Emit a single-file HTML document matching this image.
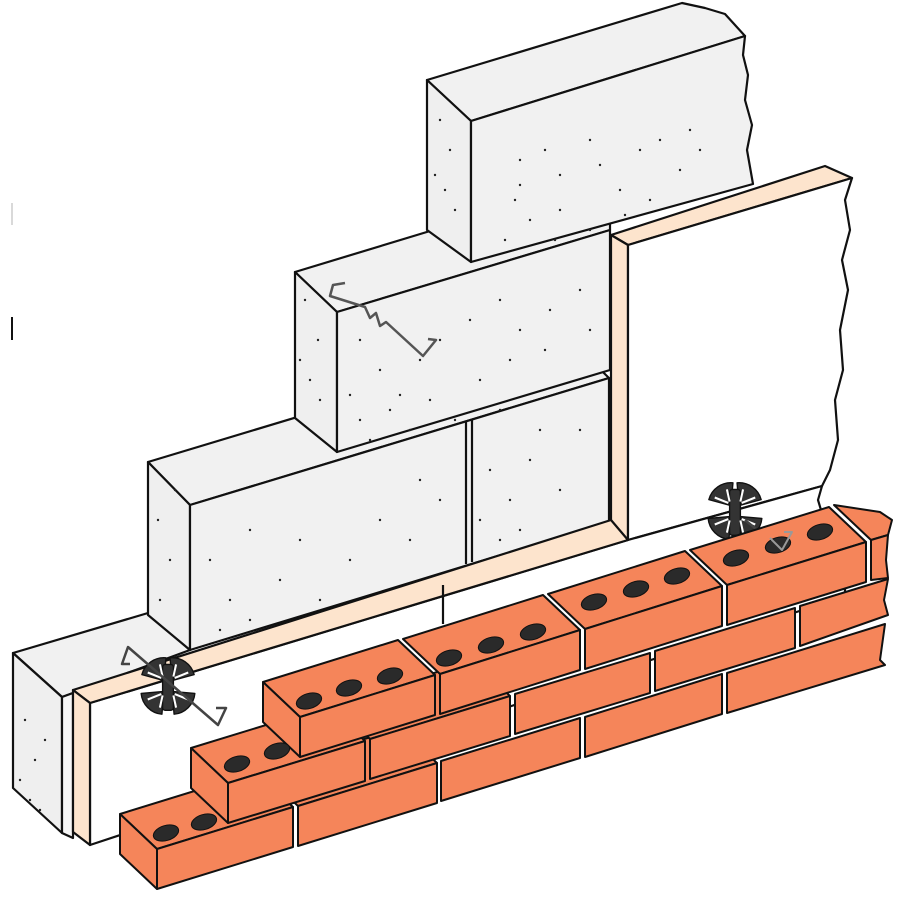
<!DOCTYPE html>
<html><head><meta charset="utf-8"><style>html,body{margin:0;padding:0;background:#fff}svg{display:block}</style></head>
<body>
<svg width="900" height="900" viewBox="0 0 900 900" xmlns="http://www.w3.org/2000/svg" stroke-linejoin="round">
<rect width="900" height="900" fill="#fff"/>
<line x1="12" y1="203" x2="12" y2="225" stroke="#ccc" stroke-width="1.5"/>
<line x1="12" y1="317" x2="12" y2="340" stroke="#111" stroke-width="2"/>

<g stroke="#111" stroke-width="2.2" fill="#f1f1f1">
<polygon points="13,653 148,613 190,650 73,693 62,697"/>
<polygon points="13,653 62,697 62,833 13,788" fill="#efefef"/>
<polygon points="62,697 73,693 73,838 62,833" fill="#f6f6f6"/>
<polygon points="148,462 566,336 609,378 190,505"/>
<polygon points="148,462 190,505 190,650 148,615" fill="#efefef"/>
<polygon points="190,505 609,378 609,522 190,650"/>
<line x1="466" y1="421" x2="466" y2="564"/>
<line x1="472" y1="419" x2="472" y2="562"/>
<polygon points="295,272 440,228 610,180 610,230 337,312"/>
<polygon points="295,272 337,312 337,452 295,418" fill="#efefef"/>
<polygon points="337,312 610,230 610,370 337,452"/>
<polygon points="427,80 682,3 705,8 725,14 745,36 471,121"/>
<polygon points="427,80 471,121 471,262 427,230" fill="#efefef"/>
<polygon points="471,121 745,36 743,55 748,75 745,100 752,125 747,150 753,184 471,262"/>
</g>

<g fill="#222">
<circle cx="520" cy="160" r="1.2"/><circle cx="545" cy="150" r="1.2"/><circle cx="560" cy="175" r="1.2"/><circle cx="590" cy="140" r="1.2"/><circle cx="600" cy="165" r="1.2"/><circle cx="620" cy="190" r="1.2"/><circle cx="640" cy="150" r="1.2"/><circle cx="660" cy="140" r="1.2"/><circle cx="680" cy="170" r="1.2"/><circle cx="700" cy="150" r="1.2"/><circle cx="515" cy="200" r="1.2"/><circle cx="530" cy="220" r="1.2"/><circle cx="505" cy="240" r="1.2"/><circle cx="560" cy="210" r="1.2"/><circle cx="590" cy="230" r="1.2"/><circle cx="650" cy="200" r="1.2"/><circle cx="625" cy="215" r="1.2"/><circle cx="555" cy="240" r="1.2"/><circle cx="520" cy="185" r="1.2"/><circle cx="690" cy="130" r="1.2"/>
<circle cx="440" cy="120" r="1.2"/><circle cx="450" cy="150" r="1.2"/><circle cx="445" cy="190" r="1.2"/><circle cx="455" cy="210" r="1.2"/><circle cx="435" cy="175" r="1.2"/>
<circle cx="360" cy="340" r="1.2"/><circle cx="380" cy="370" r="1.2"/><circle cx="400" cy="395" r="1.2"/><circle cx="420" cy="360" r="1.2"/><circle cx="440" cy="340" r="1.2"/><circle cx="470" cy="320" r="1.2"/><circle cx="500" cy="300" r="1.2"/><circle cx="520" cy="330" r="1.2"/><circle cx="550" cy="310" r="1.2"/><circle cx="580" cy="290" r="1.2"/><circle cx="360" cy="420" r="1.2"/><circle cx="390" cy="410" r="1.2"/><circle cx="350" cy="395" r="1.2"/><circle cx="430" cy="400" r="1.2"/><circle cx="480" cy="380" r="1.2"/><circle cx="510" cy="360" r="1.2"/><circle cx="545" cy="350" r="1.2"/><circle cx="590" cy="330" r="1.2"/><circle cx="370" cy="440" r="1.2"/><circle cx="410" cy="430" r="1.2"/><circle cx="455" cy="420" r="1.2"/><circle cx="500" cy="410" r="1.2"/>
<circle cx="305" cy="300" r="1.2"/><circle cx="318" cy="340" r="1.2"/><circle cx="310" cy="380" r="1.2"/><circle cx="320" cy="400" r="1.2"/><circle cx="300" cy="360" r="1.2"/>
<circle cx="210" cy="560" r="1.2"/><circle cx="230" cy="600" r="1.2"/><circle cx="250" cy="620" r="1.2"/><circle cx="280" cy="580" r="1.2"/><circle cx="300" cy="540" r="1.2"/><circle cx="320" cy="600" r="1.2"/><circle cx="350" cy="560" r="1.2"/><circle cx="380" cy="520" r="1.2"/><circle cx="410" cy="540" r="1.2"/><circle cx="440" cy="500" r="1.2"/><circle cx="250" cy="530" r="1.2"/><circle cx="220" cy="630" r="1.2"/><circle cx="300" cy="620" r="1.2"/><circle cx="420" cy="480" r="1.2"/><circle cx="360" cy="600" r="1.2"/><circle cx="490" cy="470" r="1.2"/><circle cx="510" cy="500" r="1.2"/><circle cx="530" cy="460" r="1.2"/><circle cx="560" cy="490" r="1.2"/><circle cx="580" cy="430" r="1.2"/><circle cx="520" cy="530" r="1.2"/><circle cx="500" cy="540" r="1.2"/><circle cx="540" cy="430" r="1.2"/><circle cx="480" cy="520" r="1.2"/>
<circle cx="158" cy="520" r="1.2"/><circle cx="170" cy="560" r="1.2"/><circle cx="160" cy="600" r="1.2"/><circle cx="175" cy="490" r="1.2"/>
<circle cx="25" cy="720" r="1.2"/><circle cx="35" cy="760" r="1.2"/><circle cx="30" cy="800" r="1.2"/><circle cx="45" cy="740" r="1.2"/><circle cx="20" cy="780" r="1.2"/><circle cx="40" cy="810" r="1.2"/>
</g>

<path d="M345,283 L333,285 L330,296 L365,307 L370,318 L376,313 L380,326 L386,322 L423,356 L436,340 L428,339" fill="none" stroke="#555" stroke-width="2.5"/>

<g stroke="#111" stroke-width="2.2">
<polygon points="611,235 825,166 852,178 628,245" fill="#fde4cd"/>
<polygon points="611,235 628,245 628,540 611,522" fill="#fde4cd"/>
<polygon points="628,245 852,178 845,200 850,230 842,260 848,290 840,330 843,370 835,400 838,440 830,470 822,486 628,540" fill="#fff"/>
<polygon points="90,703 628,540 822,486 818,500 824,520 845,540 845,596 90,845" fill="#fff"/>
<polygon points="73,690 611,520 628,540 90,703" fill="#fde4cd"/>
<polygon points="73,690 90,703 90,845 73,832" fill="#fde4cd"/>
<line x1="443" y1="585" x2="443" y2="624"/>
</g>

<g id="ros">
<g transform="translate(168,686) scale(1.35) translate(-168,-686)">
<g fill="#333" stroke="#111" stroke-width="1">
<path d="M165,682 L148.6,677.6 A17,17 0 0 1 166.5,665.1 Z"/>
<path d="M171,682 L169.5,665.1 A17,17 0 0 1 187.4,677.6 Z"/>
<path d="M165,690 L163.5,706.9 A17,17 0 0 1 148.1,691.5 Z"/>
<path d="M171,690 L187.9,691.5 A17,17 0 0 1 172.5,706.9 Z"/>
<rect x="164" y="670" width="8" height="34" rx="2"/>
</g>
<g stroke="#fff" stroke-width="1.5" fill="none">
<path d="M163,680 L153,676 M164,679 L162,670 M173,680 L183,676 M172,679 L174,670 M163,692 L153,696 M164,693 L162,702 M173,692 L183,696 M172,693 L174,702"/>
</g>
</g>
</g>
<path d="M130,664 L122,664 L128,647 L218,725 L226,708 L216,708" fill="none" stroke="#444" stroke-width="2.5"/>
<use href="#ros" transform="translate(567,-175)"/>
<path d="M745,520 L782,550 L792,532 L784,532" fill="none" stroke="#444" stroke-width="2.5"/>

<g stroke="#111" stroke-width="2" fill="#f5855a">
<polygon points="157,849 293,807 256,772 120,814"/><polygon points="157,849 120,814 120,854 157,889"/><polygon points="157,849 293,807 293,847 157,889"/>
<polygon points="298,806 437,763 400,728 261,771"/><polygon points="298,806 437,763 437,803 298,846"/>
<polygon points="441,761 580,718 580,758 441,801"/>
<polygon points="585,717 722,674 722,714 585,757"/>
<polygon points="727,673 885,624 880,660 885,665 727,713"/>
<polygon points="228,783 365,741 328,706 191,748"/><polygon points="228,783 191,748 191,788 228,823"/><polygon points="228,783 365,741 365,781 228,823"/>
<polygon points="370,739 510,696 473,661 333,704"/><polygon points="370,739 510,696 510,736 370,779"/>
<polygon points="515,694 650,653 650,693 515,734"/>
<polygon points="655,651 795,608 795,648 655,691"/>
<polygon points="800,606 888,579 884,600 888,615 800,646"/>
<polygon points="300,717 435,675 398,640 263,682"/><polygon points="300,717 263,682 263,722 300,757"/><polygon points="300,717 435,675 435,715 300,757"/>
<polygon points="440,674 580,630 543,595 403,639"/><polygon points="440,674 580,630 580,670 440,714"/>
<polygon points="585,629 722,586 685,551 548,594"/><polygon points="585,629 722,586 722,626 585,669"/>
<polygon points="727,585 866,542 829,507 690,550"/><polygon points="727,585 866,542 866,582 727,625"/>
<polygon points="871,540 888,535 892,520 880,512 834,505"/><polygon points="871,540 888,535 886,560 888,578 871,580"/>
</g>
<g fill="#2a2a2a" stroke="#111" stroke-width="1">
<ellipse cx="166" cy="833" rx="13" ry="7.5" transform="rotate(-17 166 833)"/>
<ellipse cx="204" cy="822" rx="13" ry="7.5" transform="rotate(-17 204 822)"/>
<ellipse cx="237" cy="764" rx="13" ry="7.5" transform="rotate(-17 237 764)"/>
<ellipse cx="277" cy="751" rx="13" ry="7.5" transform="rotate(-17 277 751)"/>
<ellipse cx="309" cy="701" rx="13" ry="7.5" transform="rotate(-17 309 701)"/>
<ellipse cx="349" cy="688" rx="13" ry="7.5" transform="rotate(-17 349 688)"/>
<ellipse cx="390" cy="676" rx="13" ry="7.5" transform="rotate(-17 390 676)"/>
<ellipse cx="449" cy="658" rx="13" ry="7.5" transform="rotate(-17 449 658)"/>
<ellipse cx="491" cy="645" rx="13" ry="7.5" transform="rotate(-17 491 645)"/>
<ellipse cx="533" cy="632" rx="13" ry="7.5" transform="rotate(-17 533 632)"/>
<ellipse cx="594" cy="602" rx="13" ry="7.5" transform="rotate(-17 594 602)"/>
<ellipse cx="636" cy="589" rx="13" ry="7.5" transform="rotate(-17 636 589)"/>
<ellipse cx="677" cy="576" rx="13" ry="7.5" transform="rotate(-17 677 576)"/>
<ellipse cx="736" cy="558" rx="13" ry="7.5" transform="rotate(-17 736 558)"/>
<ellipse cx="778" cy="545" rx="13" ry="7.5" transform="rotate(-17 778 545)"/>
<ellipse cx="820" cy="532" rx="13" ry="7.5" transform="rotate(-17 820 532)"/>
</g>
<path d="M770,538 L782,550 L792,532 L784,532" fill="none" stroke="#999" stroke-width="2"/>
</svg>
</body></html>
